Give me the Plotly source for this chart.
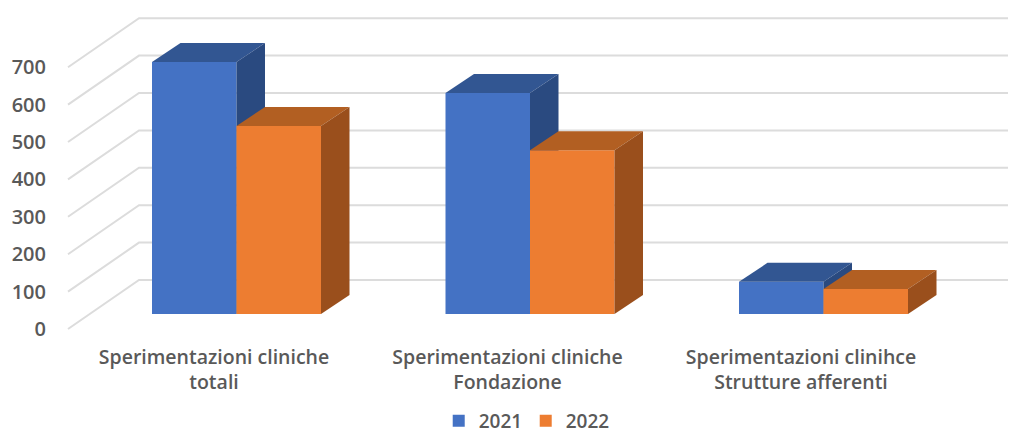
import plotly.graph_objects as go

categories = ["Sperimentazioni cliniche<br>totali",
              "Sperimentazioni cliniche<br>Fondazione",
              "Sperimentazioni clinihce<br>Strutture afferenti"]
values_2021 = [674, 591, 86]
values_2022 = [503, 438, 67]
tick_values = [0, 100, 200, 300, 400, 500, 600, 700]

FONT = "Open Sans"
GREY = "#595959"
PX_X = 293.5          # pixels per category
PX_Y = 0.374          # pixels per value unit
PLOT_L, PLOT_B = 55, 340
W, H = 1011, 433
BAR_W = 84.5 / PX_X
DX, DY = 28.5 / PX_X, 19 / PX_Y          # bar depth
WALL_X = (68 - 236.5) / PX_X
WALL_DX, WALL_DY = 71 / PX_X, 49 / PX_Y  # floor/wall depth
X_RANGE = [(PLOT_L - 236.5) / PX_X, (W - 236.5) / PX_X]
WALL_RANGE = [(329 - PLOT_B) / PX_Y, 329 / PX_Y]
BAR_RANGE = [(314 - PLOT_B) / PX_Y, 314 / PX_Y]

fig = go.Figure()

# back wall and side wall gridlines
for v in tick_values:
    fig.add_trace(go.Scatter(
        x=[WALL_X, WALL_X + WALL_DX, (1008 - 236.5) / PX_X],
        y=[v, v + WALL_DY, v + WALL_DY],
        mode="lines", line=dict(color="#dcdcdc", width=2),
        showlegend=False, hoverinfo="skip", yaxis="y"))


def faces(values, offset, front, top, side, yaxis, name):
    fig.add_trace(go.Bar(
        x=list(range(len(values))), y=values, width=BAR_W, offset=offset,
        marker=dict(color=front, line=dict(width=0)), name=name, yaxis=yaxis))
    for i, v in enumerate(values):
        x0 = i + offset
        x1 = x0 + BAR_W
        fig.add_trace(go.Scatter(
            x=[x0, x0 + DX, x1 + DX, x1, x0], y=[v, v + DY, v + DY, v, v],
            mode="lines", fill="toself", fillcolor=top, line=dict(width=0),
            showlegend=False, hoverinfo="skip", yaxis=yaxis))
        fig.add_trace(go.Scatter(
            x=[x1, x1 + DX, x1 + DX, x1, x1], y=[0, DY, v + DY, v, 0],
            mode="lines", fill="toself", fillcolor=side, line=dict(width=0),
            showlegend=False, hoverinfo="skip", yaxis=yaxis))


faces(values_2021, -BAR_W, "#4472c4", "#325692", "#2a4a80", "y2", "2021")
faces(values_2022, 0, "#ed7d31", "#b25f22", "#9a4f1c", "y3", "2022")

hidden = dict(overlaying="y", range=BAR_RANGE, visible=False, fixedrange=True)
fig.update_layout(
    width=W, height=H, autosize=False,
    margin=dict(l=PLOT_L, r=0, t=0, b=H - PLOT_B, pad=0),
    paper_bgcolor="white", plot_bgcolor="white",
    barmode="overlay",
    font=dict(family=FONT, color=GREY, size=19, weight=600),
    xaxis=dict(range=X_RANGE, showgrid=False, zeroline=False, showline=False,
               tickmode="array", ticks="", ticklabelstandoff=3,
               tickvals=[i - 22.5 / PX_X for i in range(len(categories))],
               ticktext=categories,
               tickfont=dict(family=FONT, size=19.5, color=GREY, weight=600)),
    yaxis=dict(range=WALL_RANGE, showgrid=False, zeroline=False, showline=False,
               tickmode="array", tickvals=tick_values, ticks="", ticklabelstandoff=8,
               ticktext=[str(v) for v in tick_values],
               tickfont=dict(family=FONT, size=20, color=GREY, weight=600)),
    yaxis2=hidden, yaxis3=hidden,
    legend=dict(orientation="h", xref="container", yref="container",
                x=0.52, xanchor="center", y=0.028, yanchor="middle",
                entrywidth=42, entrywidthmode="pixels",
                font=dict(family=FONT, size=19, color=GREY, weight=600),
                itemwidth=30, bgcolor="rgba(0,0,0,0)"),
)
fig.write_html("out.html", config={"displayModeBar": False},
               post_script="document.body.style.margin='0';")
